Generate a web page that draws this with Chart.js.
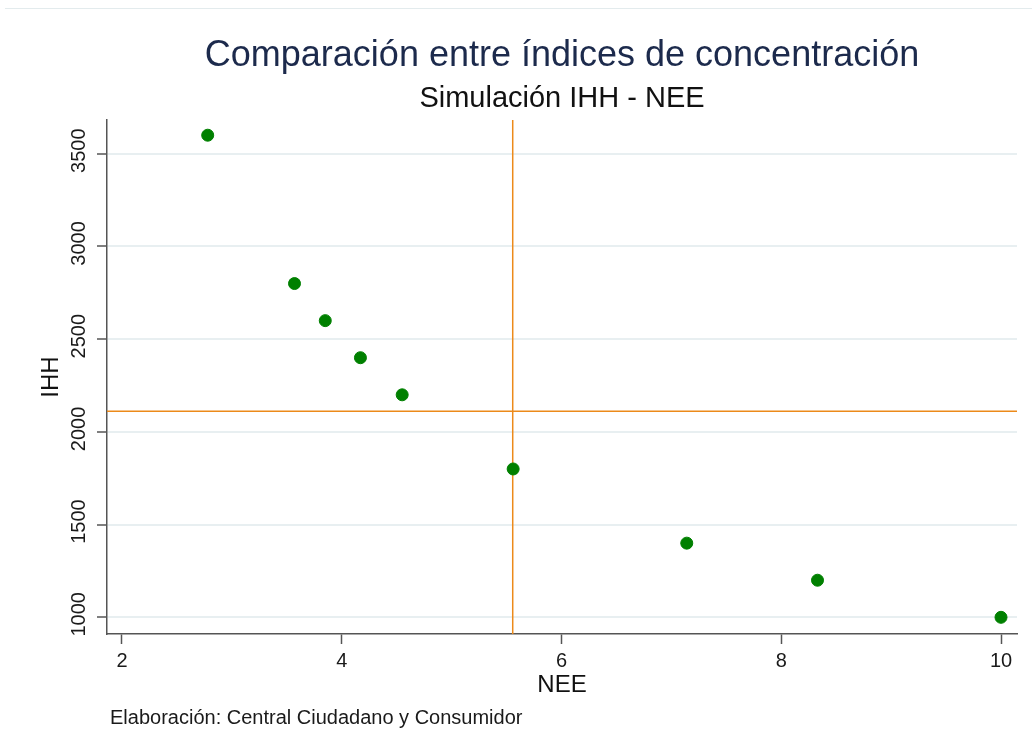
<!DOCTYPE html>
<html>
<head>
<meta charset="utf-8">
<script src="https://cdn.jsdelivr.net/npm/chart.js@4"></script>
<style>
    body { margin: 0; background: #fff; }
    #lineaSup { position: absolute; top: 8px; left: 5px; right: 0; height: 1px; background: #e3ebed; }
</style>
</head>
<body>
<div id="lineaSup"></div>
<canvas id="graf" width="1032" height="752"></canvas>
<script>
/*Datos*/
const nee = [2.78, 3.57, 3.85, 4.17, 4.55, 5.56, 7.14, 8.33, 10]
const ihh = [3600, 2800, 2600, 2400, 2200, 1800, 1400, 1200, 1000]
const ticksX = [2, 4, 6, 8, 10]
const ticksY = [1000, 1500, 2000, 2500, 3000, 3500]
// lineas de referencia
const refNEE = 5.556
const refIHH = 2111

const titulo = 'Comparación entre índices de concentración'
const subtitulo = 'Simulación IHH - NEE'
const nota = 'Elaboración: Central Ciudadano y Consumidor'

const fuente = "'Liberation Sans', Arial, sans-serif"

let puntos = nee.map((x, i) => ({ x: x, y: ihh[i] }))

//Lineas naranjas, titulos (centrados sobre el area del grafico) y nota al pie
const extras = {
    id: 'extras',
    beforeDatasetsDraw(chart) {
        let ctx = chart.ctx
        let area = chart.chartArea
        let py = chart.scales.y.getPixelForValue(refIHH)
        let px = chart.scales.x.getPixelForValue(refNEE)
        ctx.save()
        ctx.strokeStyle = '#ec8a1a'
        ctx.lineWidth = 1.5
        ctx.beginPath()
        ctx.moveTo(area.left, py)
        ctx.lineTo(area.right, py)
        ctx.moveTo(px, area.top)
        ctx.lineTo(px, area.bottom)
        ctx.stroke()
        ctx.restore()
    },
    afterDraw(chart) {
        let ctx = chart.ctx
        let area = chart.chartArea
        let centro = (area.left + area.right) / 2
        ctx.save()
        ctx.textBaseline = 'middle'
        ctx.textAlign = 'center'
        ctx.font = `36px ${fuente}`
        ctx.fillStyle = '#1c2a4c'
        ctx.fillText(titulo, centro, 56.5)
        ctx.font = `29px ${fuente}`
        ctx.fillStyle = '#111'
        ctx.fillText(subtitulo, centro, 99)
        ctx.textAlign = 'left'
        ctx.font = `20px ${fuente}`
        ctx.fillStyle = '#1a1a1a'
        ctx.fillText(nota, area.left + 3, 718)
        ctx.restore()
    }
}

let graf = new Chart('graf', {
    type: 'scatter',
    data: {
        datasets: [{
            data: puntos,
            backgroundColor: '#008000',
            borderColor: '#008000',
            borderWidth: 1,
            pointRadius: 6,
            pointHoverRadius: 6
        }]
    },
    options: {
        responsive: false,
        animation: false,
        devicePixelRatio: 1,
        layout: { padding: { left: 39.5, right: 15, top: 120, bottom: 55 } },
        plugins: {
            legend: { display: false },
            tooltip: { enabled: false },
            title: { display: false },
            subtitle: { display: false }
        },
        scales: {
            x: {
                type: 'linear',
                min: 1.8635,
                max: 10.1456,
                afterBuildTicks: eje => { eje.ticks = ticksX.map(v => ({ value: v })) },
                afterFit: eje => { eje.height = 63 },
                ticks: {
                    color: '#1a1a1a',
                    padding: 5,
                    maxRotation: 0,
                    font: { family: fuente, size: 20 }
                },
                grid: {
                    drawOnChartArea: false,
                    tickLength: 10,
                    tickColor: '#555',
                    tickWidth: 1.5
                },
                border: { color: '#555', width: 1.5 },
                title: {
                    display: true,
                    text: 'NEE',
                    color: '#111',
                    padding: 0,
                    font: { family: fuente, size: 24, lineHeight: 1 }
                }
            },
            y: {
                type: 'linear',
                min: 910,
                max: 3682,
                afterBuildTicks: eje => { eje.ticks = ticksY.map(v => ({ value: v })) },
                afterFit: eje => { eje.width = 67.5 },
                ticks: {
                    color: '#1a1a1a',
                    padding: -5,
                    labelOffset: -3,
                    minRotation: 90,
                    maxRotation: 90,
                    crossAlign: 'center',
                    callback: v => String(v),
                    font: { family: fuente, size: 20 }
                },
                grid: {
                    color: '#e8eff1',
                    lineWidth: 2,
                    tickLength: 10,
                    tickColor: '#555',
                    tickWidth: 1.5
                },
                border: { color: '#555', width: 1.5 },
                title: {
                    display: true,
                    text: 'IHH',
                    color: '#111',
                    padding: 0,
                    font: { family: fuente, size: 24, lineHeight: 1 }
                }
            }
        }
    },
    plugins: [extras]
})
</script>
</body>
</html>
